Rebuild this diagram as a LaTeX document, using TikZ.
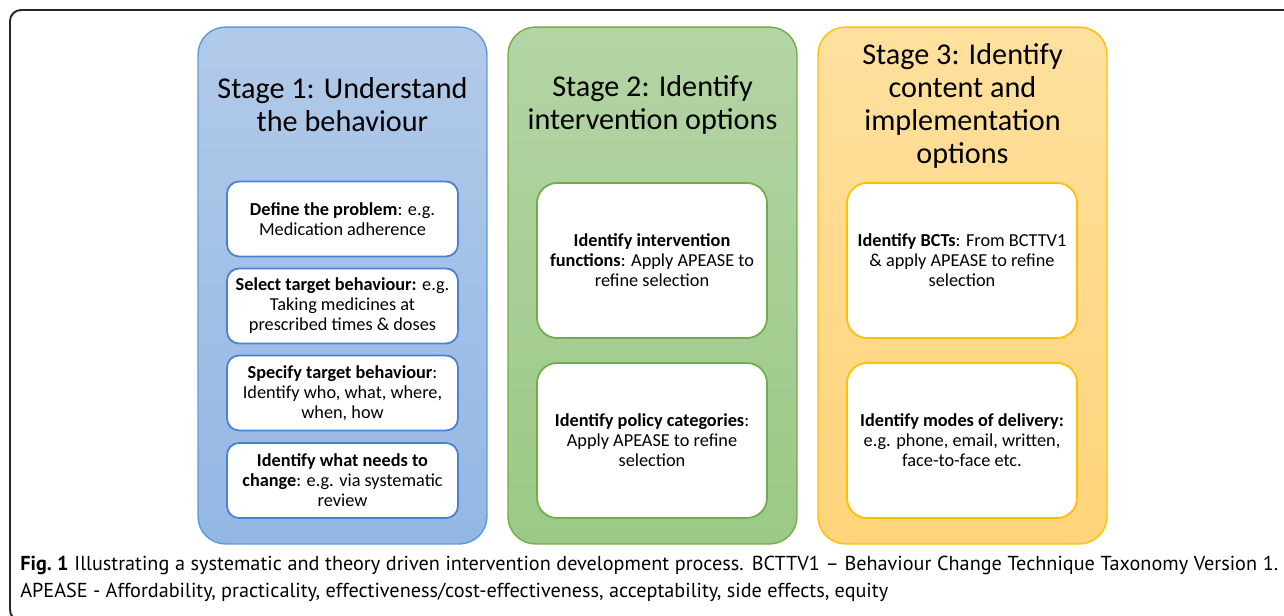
\documentclass[tikz,border=0pt]{standalone}
\usepackage{fontspec}
\setmainfont{Carlito}
\newfontfamily\capfont{PT Sans}
\usetikzlibrary{positioning}

\definecolor{sblue}{HTML}{5B9BD5}
\definecolor{sbluedark}{HTML}{4A80CF}
\definecolor{sbluetop}{HTML}{B2CAE9}
\definecolor{sbluebot}{HTML}{93B7E4}
\definecolor{sgreen}{HTML}{70AD47}
\definecolor{sgreentop}{HTML}{B4D4A5}
\definecolor{sgreenbot}{HTML}{9BC986}
\definecolor{sorange}{HTML}{FFC000}
\definecolor{sorangetop}{HTML}{FFE09E}
\definecolor{sorangebot}{HTML}{FFD47A}

\tikzset{stagecol/.style = {line width=0.8pt, rounded corners=0.55cm,
                            minimum width=5.78cm, minimum height=10.34cm,
                            inner sep=0pt}}
\tikzset{stagetitle/.style = {align=center, inner sep=0pt,
                              font=\fontsize{17.2}{18.7}\selectfont}}
\tikzset{stepbox/.style = {draw, fill=white, line width=1pt, align=center,
                           inner sep=0pt, font=\fontsize{10.4}{11.4}\selectfont}}
\tikzset{smallstep/.style = {stepbox, rounded corners=0.24cm,
                             minimum width=4.62cm, minimum height=1.5cm}}
\tikzset{bigstep/.style = {stepbox, rounded corners=0.4cm,
                           minimum width=4.6cm, minimum height=3.1cm}}

\begin{document}
\begin{tikzpicture}[x=0.02cm, y=-0.02cm]
      \useasboundingbox (0, 0) rectangle (1284, 615);

      % frame round the figure, cut off at the right and bottom
      \draw [line width=1.1pt, black!85, rounded corners=0.22cm] (1320, 10) -- (10, 10) -- (10, 621) -- (1320, 621);

      % the three stages
      \node [stagecol, draw=sblue, top color=sbluetop, bottom color=sbluebot] (stage1) at (342.5, 285.5) {};
      \node [stagecol, draw=sgreen, top color=sgreentop, bottom color=sgreenbot] (stage2) at (652.5, 285.5) {};
      \node [stagecol, draw=sorange, top color=sorangetop, bottom color=sorangebot] (stage3) at (962.5, 285.5) {};

      \node [stagetitle] (title1) at (342.5, 105) {Stage 1: Understand\\the behaviour};
      \node [stagetitle] (title2) at (652.5, 105) {Stage 2: Identify\\intervention options};
      \node [stagetitle] (title3) at (962.5, 106) {Stage 3: Identify\\content and\\implementation\\options};

      % stage 1 steps
      \node [smallstep, draw=sbluedark] (problem) at (342.5, 219) {\textbf{Define the problem}: e.g.\\Medication adherence};
      \node [smallstep, draw=sbluedark] (select) at (342.5, 306) {\textbf{Select target behaviour:} e.g.\\Taking medicines at\\prescribed times \& doses};
      \node [smallstep, draw=sbluedark] (specify) at (342.5, 393) {\textbf{Specify target behaviour}:\\Identify who, what, where,\\when, how};
      \node [smallstep, draw=sbluedark] (change) at (342.5, 480.5) {\textbf{Identify what needs to}\\\textbf{change}: e.g. via systematic\\review};

      % stage 2 steps
      \node [bigstep, draw=sgreen] (functions) at (652, 260.5) {\textbf{Identify intervention}\\\textbf{functions}: Apply APEASE to\\refine selection};
      \node [bigstep, draw=sgreen] (policy) at (652, 440.5) {\textbf{Identify policy categories}:\\Apply APEASE to refine\\selection};

      % stage 3 steps
      \node [bigstep, draw=sorange] (bcts) at (962, 260.5) {\textbf{Identify BCTs}: From BCTTV1\\\& apply APEASE to refine\\selection};
      \node [bigstep, draw=sorange] (modes) at (962, 440.5) {\textbf{Identify modes of delivery:}\\e.g. phone, email, written,\\face-to-face etc.};

      % caption
      \node [anchor=north west, inner sep=0pt, text width=25.16cm, align=justify,
             font=\capfont\fontsize{11.5}{15.3}\selectfont] (caption) at (20, 556)
            {\textbf{Fig.~1} Illustrating a systematic and theory driven intervention development process. BCTTV1 \textendash{} Behaviour Change Technique Taxonomy Version 1.\linebreak
             APEASE - Affordability, practicality, effectiveness/cost-effectiveness, acceptability, side effects, equity};
    \end{tikzpicture}
\end{document}
